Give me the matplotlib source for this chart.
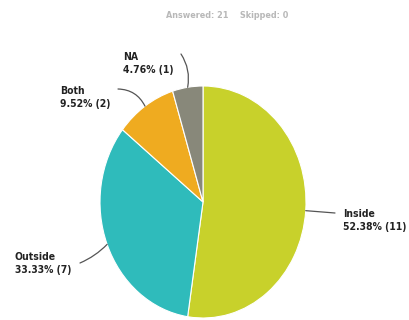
import numpy as np
import matplotlib.pyplot as plt

labels = ["Inside", "Outside", "Both", "NA"]
counts = [11, 7, 2, 1]
percents = [52.38, 33.33, 9.52, 4.76]
colors = ["#c8d12b", "#2fbbbb", "#efab20", "#88887a"]
answered = 21
skipped = 0

W, H = 410, 320
fig = plt.figure(figsize=(W / 100, H / 100), dpi=100)

# pie is drawn as an ellipse, so the axes box is taller than wide
cx, cy, rx, ry = 203, 202, 103, 116
ax = fig.add_axes([(cx - rx) / W, (H - cy - ry) / H, 2 * rx / W, 2 * ry / H])
wedges, _ = ax.pie(counts, colors=colors, startangle=90, counterclock=False,
                   radius=1, wedgeprops=dict(edgecolor="white", linewidth=0.8))
ax.set_aspect("auto")
ax.set_xlim(-1, 1)
ax.set_ylim(-1, 1)

lbl_font = dict(family="DejaVu Sans", stretch="condensed", size=7.5,
                weight="bold", color="#222222")

fig.text(227 / W, 1 - 15 / H, f"Answered: {answered}    Skipped: {skipped}",
         ha="center", va="center", fontsize=6.5, color="#b8b8b8",
         fontweight="bold", fontstretch="condensed")

# label text positions (left x, top-line y) and leader start, in pixels
label_pos = {"Inside": (343, 214), "Outside": (15, 257),
             "Both": (60, 91), "NA": (123, 57)}
leader_start = {"Inside": (335, 213), "Outside": (80, 263),
                "Both": (118, 89), "NA": (181, 54)}
leader_rad = {"Inside": 0.0, "Outside": 0.1, "Both": -0.3, "NA": -0.2}

for w, name, n, p in zip(wedges, labels, counts, percents):
    mid = np.deg2rad((w.theta1 + w.theta2) / 2)
    edge = (np.cos(mid), np.sin(mid))
    sx, sy = leader_start[name]
    ax.annotate("", xy=edge, xycoords="data",
                xytext=(sx, H - sy), textcoords="figure pixels",
                arrowprops=dict(arrowstyle="-", color="#555555", lw=0.9,
                                shrinkA=0, shrinkB=0,
                                connectionstyle=f"arc3,rad={leader_rad[name]}"))
    lx, ly = label_pos[name]
    fig.text(lx / W, 1 - ly / H, name, ha="left", va="center", **lbl_font)
    fig.text(lx / W, 1 - (ly + 13) / H, f"{p:.2f}% ({n})", ha="left",
             va="center", **lbl_font)

fig.savefig("out.png", dpi=100)
